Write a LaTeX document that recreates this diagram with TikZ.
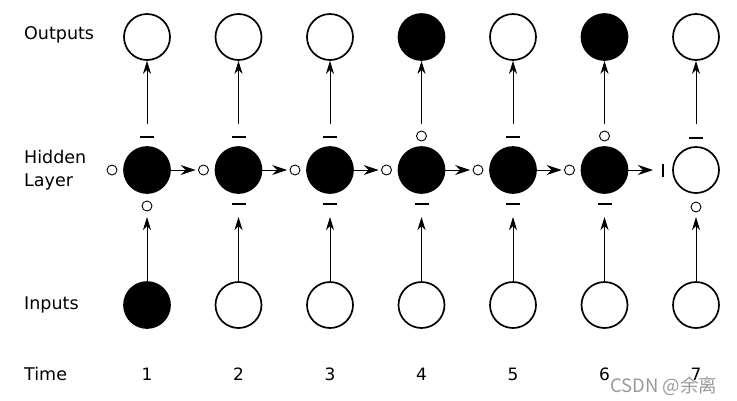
\documentclass[tikz,border=0pt]{standalone}
\usepackage{fontspec}
\setmainfont{DejaVu Sans}
\newfontfamily\cjkfont{Noto Sans CJK SC}
\usetikzlibrary{arrows.meta}
\begin{document}
\begin{tikzpicture}[x=1pt,y=-1pt,
  big/.style={circle,draw,line width=1.7pt,minimum size=46pt,inner sep=0pt},
  full/.style={big,fill=black},
  void/.style={big,fill=white},
  gate/.style={circle,draw,line width=0.9pt,minimum size=10pt,inner sep=0pt,fill=white},
  hbar/.style={rectangle,fill=black,minimum width=14pt,minimum height=2.6pt,inner sep=0pt},
  vbar/.style={rectangle,fill=black,minimum width=2.6pt,minimum height=13pt,inner sep=0pt},
  arr/.style={-{Stealth[length=15pt,width=10pt,inset=5pt]},line width=1pt},
  varr/.style={-{Stealth[length=13pt,width=8pt,inset=4pt]},line width=1pt},
  lab/.style={font=\fontsize{17.5}{23}\selectfont,anchor=west,align=left,inner sep=0pt},
  num/.style={font=\fontsize{17}{20}\selectfont,inner sep=0pt}]
\useasboundingbox (0,0) rectangle (737,400);

% row labels
\node[lab] (tOut) at (24,35) {Outputs};
\node[lab] (tHid) at (24,170) {Hidden\\Layer};
\node[lab] (tIn) at (24,305) {Inputs};
\node[lab] (tTime) at (24,374) {Time};

% columns
\foreach \i/\x/\o/\h/\n in {1/147/void/full/full,2/238.5/void/full/void,3/330/void/full/void,
  4/421.5/full/full/void,5/513/void/full/void,6/604.5/full/full/void,7/696/void/void/void}{
  \node[\o] (o\i) at (\x,37) {};
  \node[\h] (h\i) at (\x,170) {};
  \node[\n] (in\i) at (\x,305) {};
  \node[num] (t\i) at (\x,374) {\i};
  \coordinate (up\i) at (\x,124);
  \coordinate (dn\i) at (\x,217);
  \draw[varr] (up\i) -- (o\i.south);
  \draw[varr] (in\i.north) -- (dn\i);
}

% left gates
\foreach \i/\x in {1/147,2/238.5,3/330,4/421.5,5/513,6/604.5}{
  \node[gate] (l\i) at (\x-35,170) {};
}
\node[vbar] (l7) at (663,170) {};

% top marks
\node[hbar] (a1) at (147,137) {};
\node[hbar] (a2) at (238.5,137) {};
\node[hbar] (a3) at (330,137) {};
\node[gate] (a4) at (421.5,136) {};
\node[hbar] (a5) at (513,137) {};
\node[gate] (a6) at (604.5,136) {};
\node[hbar] (a7) at (696,138) {};

% bottom marks
\node[gate] (b1) at (147,206) {};
\node[hbar] (b2) at (238.5,204) {};
\node[hbar] (b3) at (330,204) {};
\node[hbar] (b4) at (421.5,204) {};
\node[hbar] (b5) at (513,204) {};
\node[hbar] (b6) at (604.5,204) {};
\node[gate] (b7) at (696,207) {};

% recurrent arrows
\foreach \i/\j in {1/2,2/3,3/4,4/5,5/6}{
  \draw[arr,shorten >=2.5pt] (h\i.east) -- (l\j.west);
}
\draw[arr,shorten >=10pt] (h6.east) -- (l7.center);

% watermark
\node[font=\fontsize{18.5}{20}\selectfont\cjkfont,text=black!40,anchor=west,inner sep=0pt] (wm) at (610,386) {CSDN @余离};
\end{tikzpicture}
\end{document}
